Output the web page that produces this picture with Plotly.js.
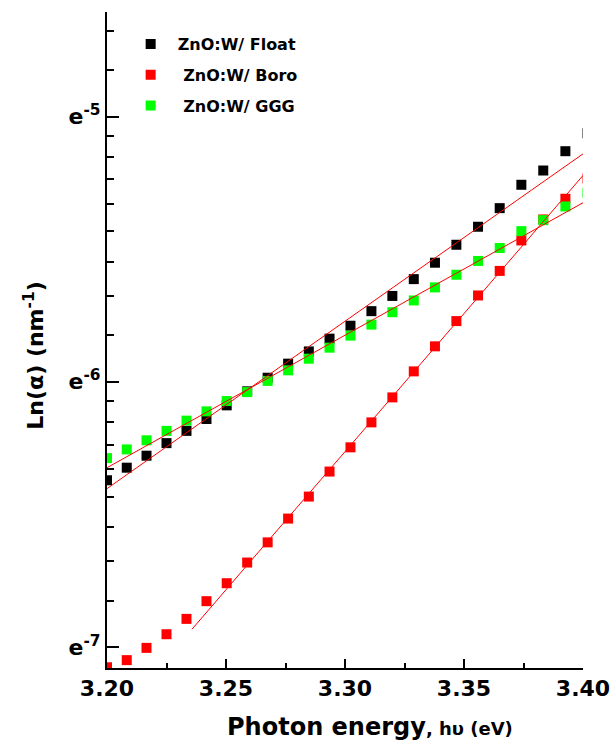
<!DOCTYPE html>
<html><head><meta charset="utf-8">
<script src="https://cdn.plot.ly/plotly-3.0.1.min.js"></script>
<style>html,body{margin:0;padding:0;background:#fff}#chart{width:616px;height:742px}</style>
</head><body><div id="chart"></div>
<script>
// Photon energy (eV)
const energy = [3.2000, 3.2083, 3.2166, 3.2250, 3.2334, 3.2418, 3.2503, 3.2589, 3.2675, 3.2761, 3.2848, 3.2935,
                3.3023, 3.3111, 3.3199, 3.3289, 3.3378, 3.3468, 3.3559, 3.3650, 3.3741, 3.3833, 3.3926, 3.4019];
// absorption coefficient alpha (nm^-1)
const floatAlpha = [0.001710, 0.001793, 0.001876, 0.001967, 0.002060, 0.002154, 0.002268, 0.002391, 0.002517, 0.002654, 0.002779, 0.002916,
                    0.003062, 0.003235, 0.003426, 0.003650, 0.003883, 0.004155, 0.004447, 0.004770, 0.005209, 0.005497, 0.005912, 0.006327];
const boroAlpha  = [0.000845, 0.000868, 0.000909, 0.000957, 0.001014, 0.001084, 0.001160, 0.001254, 0.001353, 0.001480, 0.001608, 0.001767,
                    0.001936, 0.002127, 0.002337, 0.002578, 0.002833, 0.003116, 0.003432, 0.003765, 0.004223, 0.004571, 0.004942, 0.005334];
const gggAlpha   = [0.001859, 0.001921, 0.001988, 0.002060, 0.002141, 0.002217, 0.002305, 0.002384, 0.002487, 0.002588, 0.002704, 0.002819,
                    0.002950, 0.003075, 0.003222, 0.003368, 0.003538, 0.003711, 0.003909, 0.004105, 0.004374, 0.004559, 0.004800, 0.005051];
// linear fits (end points)
const floatFitX = [3.20, 3.40];
const floatFitY = [0.001657, 0.005853];
const boroFitX  = [3.2357, 3.40];
const boroFitY  = [0.0009752, 0.005395];
const gggFitX   = [3.20, 3.40];
const gggFitY   = [0.001793, 0.004868];

const seriesNames = ['ZnO:W/ Float', '\u00a0ZnO:W/ Boro', '\u00a0ZnO:W/ GGG'];
const xTickVals = [3.20, 3.25, 3.30, 3.35, 3.40];
const xTickText = ['3.20', '3.25', '3.30', '3.35', '3.40'];
const xMinorVals = [3.225, 3.275, 3.325, 3.375];
const yTickVals = [0.000911882, 0.00247875, 0.00673795];
const yTickText = ['e<sup>-7</sup>', 'e<sup>-6</sup>', 'e<sup>-5</sup>'];
const yMinorVals = [0.0010860, 0.0012601, 0.0014342, 0.0016083, 0.0017824, 0.0019565, 0.0021306, 0.0023047,
                    0.0029520, 0.0034252, 0.0038985, 0.0043717, 0.0048450, 0.0053182, 0.0057915, 0.0062647,
                    0.0080244, 0.0093108];

const F = 'DejaVu Sans, Verdana, sans-serif';
const mk = (c) => ({symbol: 'square', size: 10, color: c, line: {width: 0}});

const traces = [
  {x: energy, y: floatAlpha, type: 'scatter', mode: 'markers', name: seriesNames[0], legendgroup: 'a', marker: mk('#000000')},
  {x: energy, y: boroAlpha, type: 'scatter', mode: 'markers', name: seriesNames[1], legendgroup: 'b', marker: mk('#ff0000')},
  {x: energy, y: gggAlpha, type: 'scatter', mode: 'markers', name: seriesNames[2], legendgroup: 'c', marker: mk('#00ff00')},
  {x: floatFitX, y: floatFitY, type: 'scatter', mode: 'lines', showlegend: false, line: {color: '#ff0000', width: 1}},
  {x: boroFitX, y: boroFitY, type: 'scatter', mode: 'lines', showlegend: false, line: {color: '#ff0000', width: 1}},
  {x: gggFitX, y: gggFitY, type: 'scatter', mode: 'lines', showlegend: false, line: {color: '#ff0000', width: 1}}
];

const layout = {
  width: 616, height: 742,
  margin: {l: 107, r: 33, t: 12, b: 74, pad: 0},
  paper_bgcolor: '#ffffff', plot_bgcolor: '#ffffff',
  showlegend: true,
  legend: {x: 0.035, y: 0.977, xanchor: 'left', yanchor: 'top', bgcolor: 'rgba(0,0,0,0)',
           font: {family: F, size: 16, weight: 'bold', color: '#000'}, itemwidth: 44, tracegroupgap: 7},
  xaxis: {
    range: [3.2, 3.4], tickmode: 'array', tickvals: xTickVals, ticktext: xTickText,
    ticks: 'inside', ticklen: 9, tickwidth: 2, tickcolor: '#000',
    showline: true, linewidth: 2, linecolor: '#000', showgrid: false, zeroline: false,
    tickfont: {family: F, size: 22, weight: 'bold', color: '#000'},
    minor: {tickmode: 'array', tickvals: xMinorVals, ticks: 'inside', ticklen: 5, tickwidth: 2, tickcolor: '#000', showgrid: false}
  },
  yaxis: {
    type: 'log', range: [Math.log10(Math.exp(-7.079)), Math.log10(Math.exp(-4.606))],
    tickmode: 'array', tickvals: yTickVals, ticktext: yTickText,
    ticks: 'inside', ticklen: 12, tickwidth: 2, tickcolor: '#000',
    showline: true, linewidth: 2, linecolor: '#000', showgrid: false, zeroline: false,
    tickfont: {family: F, size: 22, weight: 'bold', color: '#000'},
    minor: {tickmode: 'array', tickvals: yMinorVals, ticks: 'inside', ticklen: 7, tickwidth: 2, tickcolor: '#000', showgrid: false}
  },
  annotations: [
    {text: 'Ln(α) (nm<sup>-1</sup>)', xref: 'paper', yref: 'paper', x: -0.1535, y: 0.476,
     xanchor: 'center', yanchor: 'middle', textangle: -90, showarrow: false,
     font: {family: F, size: 22, weight: 'bold', color: '#000'}},
    {text: 'Photon energy<span style="font-size:18px">, hυ (eV)</span>', xref: 'paper', yref: 'paper', x: 0.5525, y: -0.0905,
     xanchor: 'center', yanchor: 'middle', showarrow: false,
     font: {family: F, size: 24, weight: 'bold', color: '#000'}}
  ]
};

Plotly.newPlot('chart', traces, layout, {displayModeBar: false, staticPlot: true});
</script>
</body></html>
